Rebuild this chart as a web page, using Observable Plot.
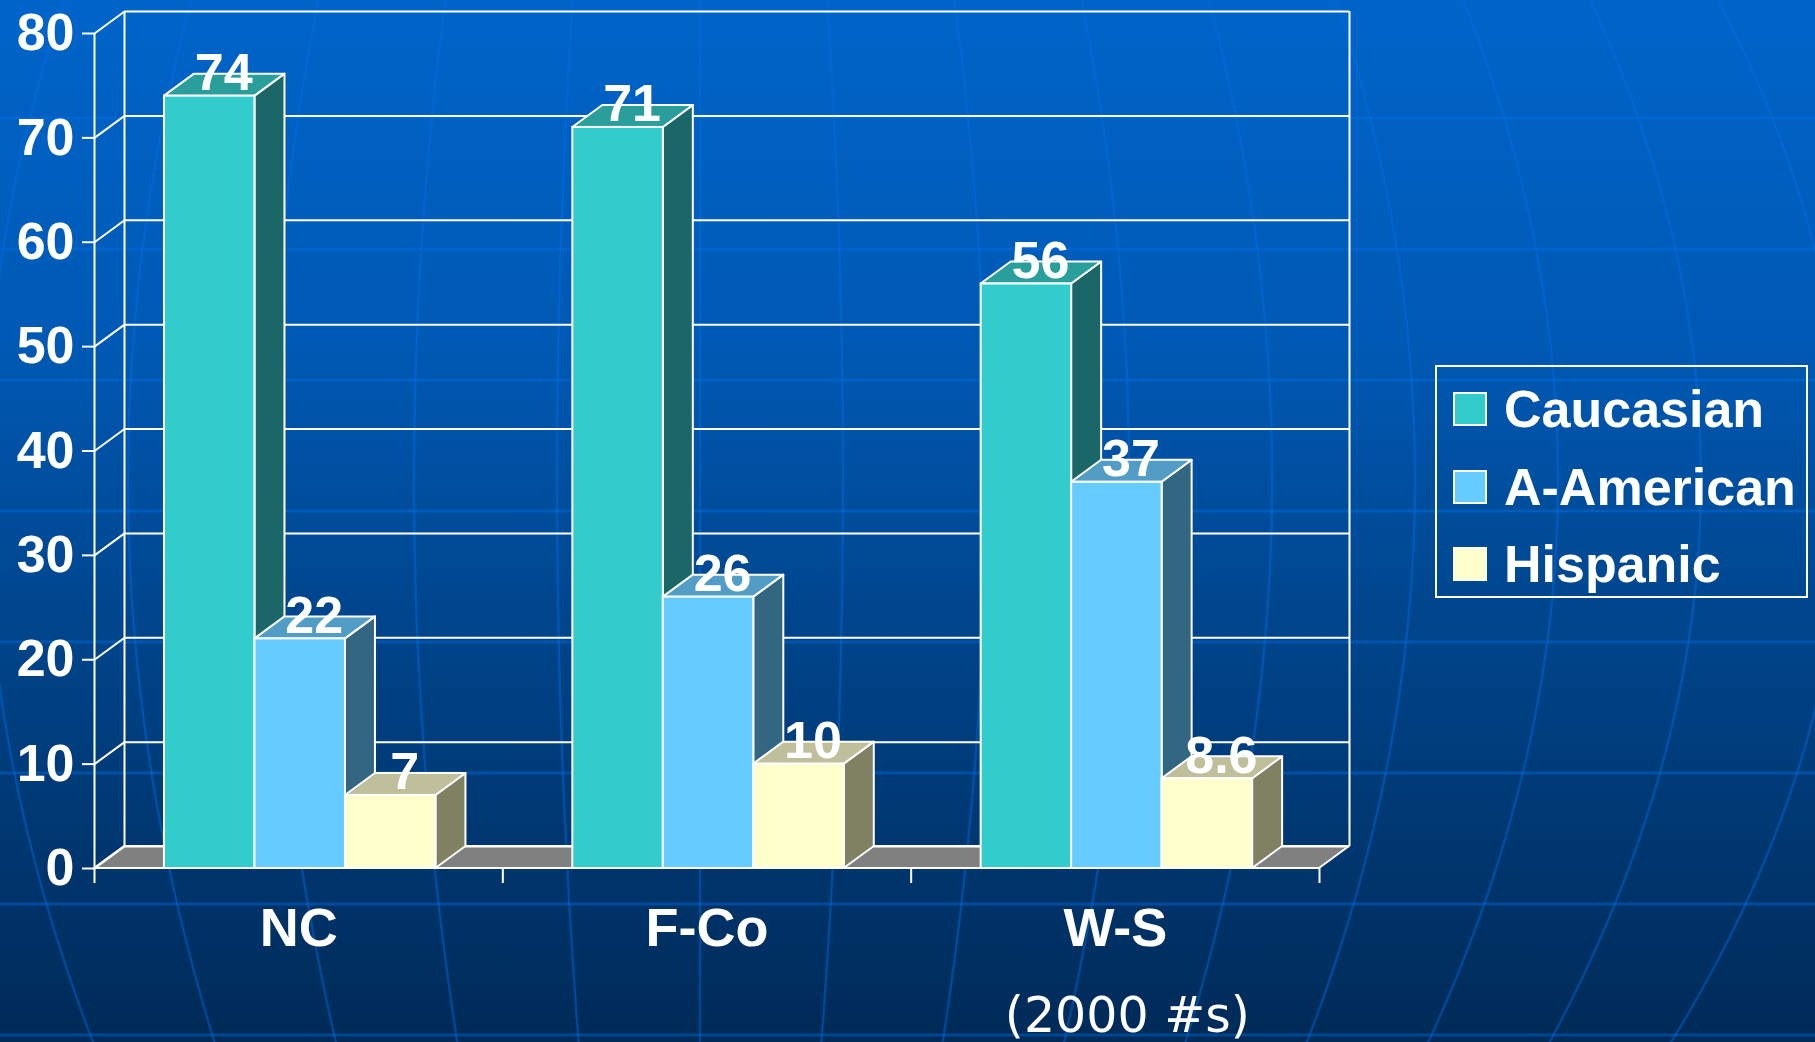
<!DOCTYPE html>
<html>
<head>
<meta charset="utf-8">
<script src="https://cdn.jsdelivr.net/npm/d3@7"></script>
<script src="https://cdn.jsdelivr.net/npm/@observablehq/plot@0.6"></script>
<style>
  html, body { margin: 0; padding: 0; width: 1815px; height: 1042px; overflow: hidden; }
  body {
    position: relative;
    background: linear-gradient(180deg, #0064c9 0%, #0059b4 33%, #00468e 58%, #002a57 100%);
    font-family: "Liberation Sans", Arial, sans-serif;
  }
  #globe, #chart { position: absolute; left: 0; top: 0; }
  #legend {
    position: absolute; left: 1435px; top: 365px; width: 369px; height: 229px;
    border: 2px solid #fff;
  }
  #legend .row {
    position: absolute; left: 0; height: 60px; display: flex; align-items: center;
  }
  #legend .swatch {
    position: absolute; left: 16px; width: 30px; height: 30px; border: 2px solid #fff;
  }
  #legend .name {
    position: absolute; left: 67px; white-space: nowrap;
    color: #fff; font-weight: bold; font-size: 52px;
  }
</style>
</head>
<body>
<svg id="globe" width="1815" height="1042"></svg>
<div id="chart"></div>
<div id="legend"></div>
<script>
// Population by race (2000 census, percent)
const categories = ["NC", "F-Co", "W-S"];
const seriesNames = ["Caucasian", "A-American", "Hispanic"];
const caucasian = [74, 71, 56];
const africanAmerican = [22, 26, 37];
const hispanic = [7, 10, 8.6];
const yTicks = [0, 10, 20, 30, 40, 50, 60, 70, 80];
const caption = "(2000 #s)";

const seriesValues = [caucasian, africanAmerican, hispanic];
const palette = {
  "Caucasian":  {front: "#33cccc", top: "#299e9b", side: "#1b6666"},
  "A-American": {front: "#66ccff", top: "#519dc6", side: "#336680"},
  "Hispanic":   {front: "#ffffcc", top: "#bfbf9c", side: "#808062"}
};

// Layout
const width = 1815, height = 1042;
const margin = {top: 33, right: 496, bottom: 174, left: 94};
const yMax = 80;
const depthPx = [30, 22];            // 3D depth offset of bars and walls, in pixels
const groupInset = 0.1714;           // left gap inside each category band
const barWidth = 0.2216;             // width of a single bar, in band units
const N = categories.length;
const pxPerX = (width - margin.left - margin.right) / N;
const pxPerY = (height - margin.top - margin.bottom) / yMax;
const DX = depthPx[0] / pxPerX;
const DY = depthPx[1] / pxPerY;

// Decorative globe lines in the background
(function drawGlobe() {
  const svg = d3.select("#globe");
  const stroke = "rgba(0,112,232,0.40)";
  for (let k = 0; k < 8; k++) {
    const y = 118 + 131 * k;
    svg.append("line").attr("x1", 0).attr("x2", width).attr("y1", y).attr("y2", y)
      .attr("stroke", stroke).attr("stroke-width", 3);
  }
  const cx = 700, eq = 480, half = 560, bulge = 0.15;
  const ys = d3.range(0, height + 21, 20);
  const line = d3.line();
  for (let k = -5; k <= 8; k++) {
    const xe = cx + 143 * k;
    const pts = ys.map(y => [cx + (xe - cx) * (1 - bulge * ((y - eq) / half) ** 2), y]);
    svg.append("path").attr("d", line(pts)).attr("fill", "none")
      .attr("stroke", stroke).attr("stroke-width", 2.5);
  }
})();

// Bars: one record per (category, series)
const bars = categories.flatMap((cat, g) => seriesNames.map((s, i) => {
  const x1 = g + groupInset + i * barWidth;
  return {id: `${cat}-${s}`, cat, series: s, value: seriesValues[i][g], x1, x2: x1 + barWidth};
}));

const sideFaces = bars.flatMap(b => [
  {id: b.id, series: b.series, x: b.x2, y1: 0, y2: b.value},
  {id: b.id, series: b.series, x: b.x2 + DX, y1: DY, y2: b.value + DY}
]);
const topFaces = bars.flatMap(b => [
  {id: b.id, series: b.series, y: b.value, x1: b.x1, x2: b.x2},
  {id: b.id, series: b.series, y: b.value + DY, x1: b.x1 + DX, x2: b.x2 + DX}
]);
const floor = [
  {y: 0, x1: 0, x2: N},
  {y: DY, x1: DX, x2: N + DX}
];

const edge = {stroke: "white", strokeWidth: 2};

const chart = Plot.plot({
  width, height,
  marginTop: margin.top, marginRight: margin.right,
  marginBottom: margin.bottom, marginLeft: margin.left,
  x: {type: "linear", domain: [0, N], axis: null},
  y: {type: "linear", domain: [0, yMax], axis: null},
  color: {type: "identity"},
  style: {background: "transparent", color: "white", fontFamily: "'Liberation Sans', Arial, sans-serif", overflow: "visible"},
  marks: [
    // floor
    Plot.areaX(floor, {y: "y", x1: "x1", x2: "x2", fill: "#808080", ...edge}),
    // back wall and its gridlines
    Plot.ruleY(yTicks, {y: d => d + DY, x1: DX, x2: N + DX, ...edge}),
    Plot.ruleX([DX, N + DX], {x: d => d, y1: DY, y2: yMax + DY, ...edge}),
    // side wall gridlines
    Plot.link(yTicks, {x1: 0, y1: d => d, x2: DX, y2: d => d + DY, ...edge}),
    Plot.ruleX([0], {y1: 0, y2: yMax, ...edge}),
    // axes
    Plot.axisY(yTicks, {tickSize: 12, tickPadding: 8, fontSize: 52, fontWeight: "bold", strokeWidth: 2, label: null}),
    Plot.axisX(d3.range(N + 1), {tickSize: 15, tickFormat: () => "", strokeWidth: 2, label: null}),
    // 3D bars: side faces, top faces, front faces
    Plot.areaY(sideFaces, {x: "x", y1: "y1", y2: "y2", z: "id", fill: d => palette[d.series].side, ...edge}),
    Plot.areaX(topFaces, {y: "y", x1: "x1", x2: "x2", z: "id", fill: d => palette[d.series].top, ...edge}),
    Plot.rect(bars, {x1: "x1", x2: "x2", y1: 0, y2: "value", fill: d => palette[d.series].front, ...edge}),
    // value labels
    Plot.text(bars, {
      x: d => (d.x1 + d.x2) / 2, y: "value", text: d => String(d.value),
      dx: depthPx[0] / 2 - 1, dy: -6, lineAnchor: "bottom",
      fill: "white", fontSize: 52, fontWeight: "bold"
    }),
    // category labels
    Plot.text(categories, {
      x: (d, i) => i + 0.5, y: 0, text: d => d, dy: 60, lineAnchor: "middle",
      fill: "white", fontSize: 54, fontWeight: "bold"
    }),
    // units note
    Plot.text([caption], {
      x: N - 0.5, y: 0, text: d => d, dx: 12, dy: 163, lineAnchor: "bottom",
      fill: "white", fontSize: 49, fontWeight: "normal", fontFamily: "'DejaVu Sans', Verdana, sans-serif"
    })
  ]
});
document.getElementById("chart").appendChild(chart);

// Legend
const legend = d3.select("#legend");
seriesNames.forEach((s, i) => {
  const row = legend.append("div").attr("class", "row")
    .style("top", `${42 - 30 + i * 77.5}px`).style("width", "100%");
  row.append("div").attr("class", "swatch").style("background", palette[s].front)
    .style("top", "13px");
  row.append("div").attr("class", "name").text(s);
});
</script>
</body>
</html>
